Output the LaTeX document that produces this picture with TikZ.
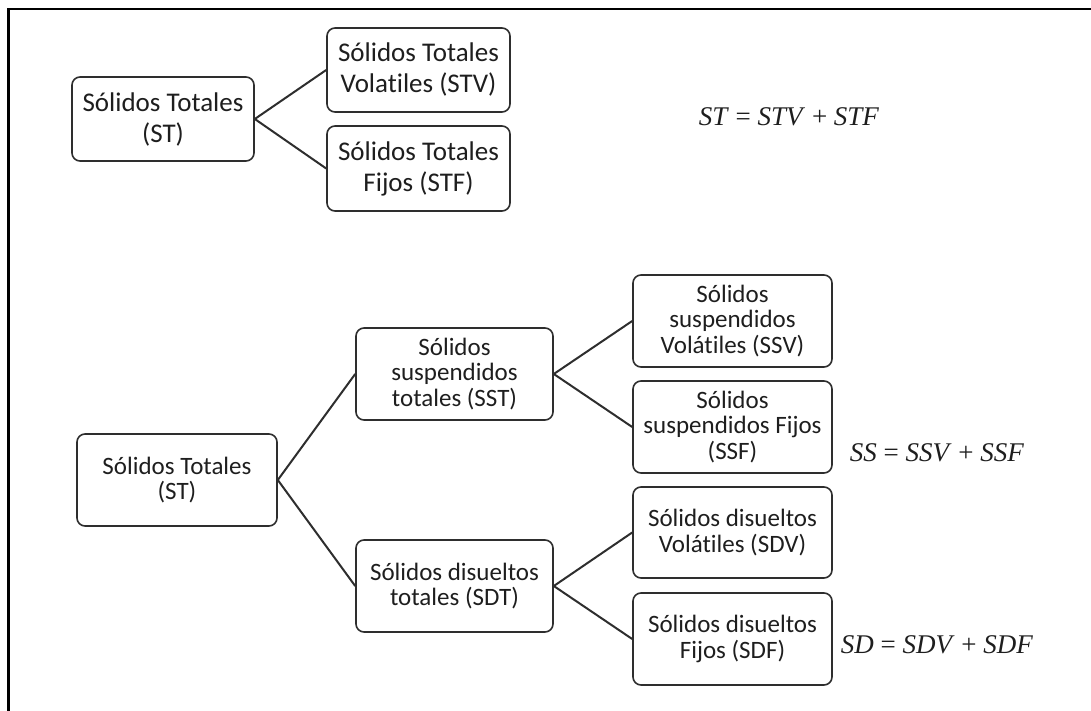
\documentclass[tikz,border=0pt]{standalone}
\usepackage{fontspec}
\setmainfont[Ligatures={NoCommon}]{Carlito}
\newfontfamily\eqfont{Liberation Serif}
\newcommand{\mv}[1]{\textit{#1}}
\definecolor{boxc}{HTML}{2E2E2E}
\definecolor{txt}{HTML}{1E1E1E}
\tikzset{
  topbox/.style={draw=boxc, line width=1.6pt, rounded corners=8pt,
    minimum width=183pt, minimum height=85pt, align=center, inner sep=0pt,
    font=\fontsize{27}{31}\selectfont, text=txt},
  botbox/.style={draw=boxc, line width=1.6pt, rounded corners=8pt,
    minimum width=199pt, minimum height=92pt, align=center, inner sep=0pt,
    font=\fontsize{25}{25.5}\selectfont, text=txt},
  link/.style={draw=boxc, line width=2pt},
  eqn/.style={font=\eqfont\fontsize{27}{27}\selectfont, text=txt, inner sep=0pt},
  frame/.style={draw=black, line width=2.6pt}
}
\begin{document}
\begin{tikzpicture}[x=1pt,y=-1pt]
\useasboundingbox (0,0) rectangle (1091,711);
% frame (only top and left edges visible)
\coordinate (fa) at (8.5,711);
\coordinate (fb) at (8.5,9);
\coordinate (fc) at (1091,9);
\draw[frame] (fa) -- (fb) -- (fc);

% top tree
\node[topbox, minimum width=182pt, minimum height=84pt] (st1) at (163,119) {Sólidos Totales\\(ST)};
\node[topbox, minimum height=84pt] (stv) at (418.5,70) {Sólidos Totales\\Volatiles (STV)};
\node[topbox] (stf) at (418.5,168.5) {Sólidos Totales\\Fijos (STF)};
\draw[link] (st1.east) -- (stv.west);
\draw[link] (st1.east) -- (stf.west);
\node[eqn] (eq1) at (789,117) {\mv{ST} = \mv{STV} + \mv{STF}};

% bottom tree
\node[botbox, minimum width=200pt] (st2) at (177,480) {Sólidos Totales\\(ST)};
\node[botbox, minimum width=197pt] (sst) at (454.5,374) {Sólidos\\suspendidos\\totales (SST)};
\node[botbox, minimum width=197pt] (sdt) at (454.5,586) {Sólidos disueltos\\totales (SDT)};
\node[botbox] (ssv) at (732.5,321) {Sólidos\\suspendidos\\Volátiles (SSV)};
\node[botbox] (ssf) at (732.5,427) {Sólidos\\suspendidos Fijos\\(SSF)};
\node[botbox, minimum height=91pt] (sdv) at (732.5,532.5) {Sólidos disueltos\\Volátiles (SDV)};
\node[botbox] (sdf) at (732.5,639) {Sólidos disueltos\\Fijos (SDF)};
\draw[link] (st2.east) -- (sst.west);
\draw[link] (st2.east) -- (sdt.west);
\draw[link] (sst.east) -- (ssv.west);
\draw[link] (sst.east) -- (ssf.west);
\draw[link] (sdt.east) -- (sdv.west);
\draw[link] (sdt.east) -- (sdf.west);
\node[eqn] (eq2) at (937,453) {\mv{SS} = \mv{SSV} + \mv{SSF}};
\node[eqn] (eq3) at (937,645) {\mv{SD} = \mv{SDV} + \mv{SDF}};
\end{tikzpicture}
\end{document}
